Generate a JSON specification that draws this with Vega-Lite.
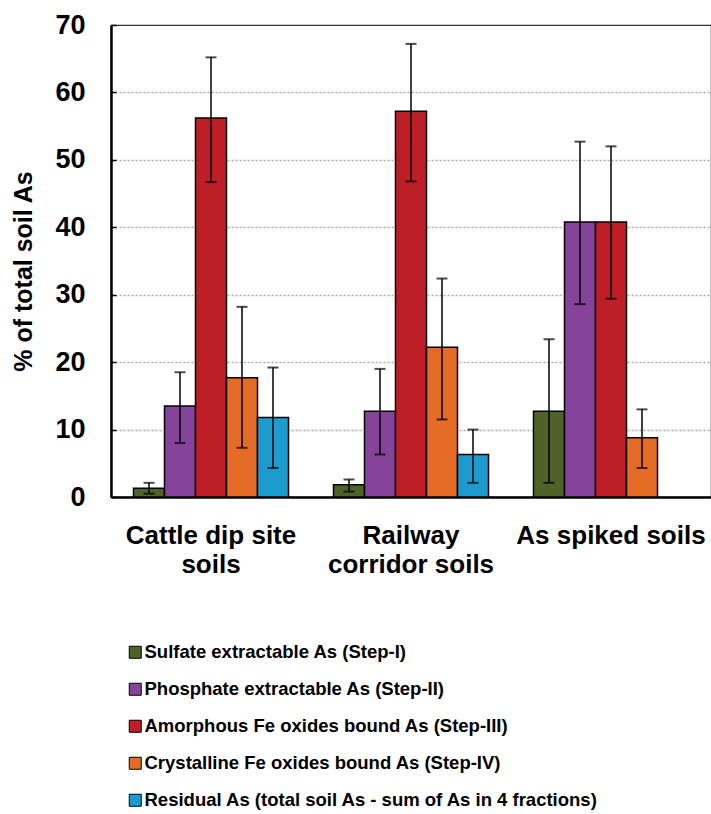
{
  "$schema": "https://vega.github.io/schema/vega-lite/v6.json",
  "autosize": {"type": "none"},
  "padding": {"left": 111, "top": 25, "right": 0, "bottom": 317},
  "width": 600,
  "height": 472,
  "background": "white",
  "config": {
    "font": "Liberation Sans",
    "view": {"stroke": "#333", "strokeWidth": 1.2}
  },
  "data": {
    "values": [
      {"group": "Cattle dip site|soils", "fraction": "Sulfate extractable  As (Step-I)", "value": 1.3, "lo": 0.5, "hi": 2.1},
      {"group": "Cattle dip site|soils", "fraction": "Phosphate extractable   As (Step-II)", "value": 13.5, "lo": 8.0, "hi": 18.5},
      {"group": "Cattle dip site|soils", "fraction": "Amorphous Fe oxides bound As (Step-III)", "value": 56.2, "lo": 46.7, "hi": 65.2},
      {"group": "Cattle dip site|soils", "fraction": "Crystalline Fe oxides bound As (Step-IV)", "value": 17.7, "lo": 7.3, "hi": 28.2},
      {"group": "Cattle dip site|soils", "fraction": "Residual As (total soil As - sum of As in 4 fractions)", "value": 11.8, "lo": 4.3, "hi": 19.2},
      {"group": "Railway|corridor soils", "fraction": "Sulfate extractable  As (Step-I)", "value": 1.8, "lo": 0.8, "hi": 2.6},
      {"group": "Railway|corridor soils", "fraction": "Phosphate extractable   As (Step-II)", "value": 12.7, "lo": 6.3, "hi": 19.0},
      {"group": "Railway|corridor soils", "fraction": "Amorphous Fe oxides bound As (Step-III)", "value": 57.2, "lo": 46.8, "hi": 67.2},
      {"group": "Railway|corridor soils", "fraction": "Crystalline Fe oxides bound As (Step-IV)", "value": 22.2, "lo": 11.5, "hi": 32.4},
      {"group": "Railway|corridor soils", "fraction": "Residual As (total soil As - sum of As in 4 fractions)", "value": 6.3, "lo": 2.1, "hi": 10.0},
      {"group": "As spiked soils", "fraction": "Sulfate extractable  As (Step-I)", "value": 12.7, "lo": 2.1, "hi": 23.4},
      {"group": "As spiked soils", "fraction": "Phosphate extractable   As (Step-II)", "value": 40.8, "lo": 28.6, "hi": 52.7},
      {"group": "As spiked soils", "fraction": "Amorphous Fe oxides bound As (Step-III)", "value": 40.8, "lo": 29.4, "hi": 52.0},
      {"group": "As spiked soils", "fraction": "Crystalline Fe oxides bound As (Step-IV)", "value": 8.8, "lo": 4.3, "hi": 13.0}
    ]
  },
  "encoding": {
    "x": {
      "field": "group",
      "type": "nominal",
      "sort": ["Cattle dip site|soils", "Railway|corridor soils", "As spiked soils"],
      "scale": {"paddingInner": 0.225, "paddingOuter": 0.1125},
      "axis": {
        "title": null,
        "labelAngle": 0,
        "labelExpr": "split(datum.label, '|')",
        "labelFont": "Liberation Sans",
        "labelFontSize": 26,
        "labelFontWeight": "bold",
        "labelColor": "black",
        "labelLineHeight": 29,
        "labelPadding": 25,
        "labelBaseline": "top",
        "labelLimit": 0,
        "labelOverlap": false,
        "ticks": false,
        "domainColor": "black",
        "domainWidth": 2.5
      }
    },
    "xOffset": {
      "field": "fraction",
      "type": "nominal",
      "scale": {
        "domain": [
          "Sulfate extractable  As (Step-I)",
          "Phosphate extractable   As (Step-II)",
          "Amorphous Fe oxides bound As (Step-III)",
          "Crystalline Fe oxides bound As (Step-IV)",
          "Residual As (total soil As - sum of As in 4 fractions)"
        ],
        "paddingInner": 0,
        "paddingOuter": 0
      }
    }
  },
  "layer": [
    {
      "mark": {"type": "bar", "stroke": "black", "strokeWidth": 1.5},
      "encoding": {
        "y": {
          "field": "value",
          "type": "quantitative",
          "scale": {"domain": [0, 70], "nice": false},
          "axis": {
            "title": "% of total soil As",
            "titleFont": "Liberation Sans",
            "titleFontSize": 25,
            "titleFontWeight": "bold",
            "titleColor": "black",
            "titleY": 246,
            "titlePadding": 18,
            "values": [0, 5, 10, 15, 20, 25, 30, 35, 40, 45, 50, 55, 60, 65, 70],
            "labelExpr": "datum.value % 10 === 0 ? datum.label : ''",
            "labelFont": "Liberation Sans",
            "labelFontSize": 27,
            "labelFontWeight": "bold",
            "labelColor": "black",
            "labelPadding": 31,
            "tickSize": -5,
            "tickColor": "black",
            "tickWidth": 1.5,
            "domainColor": "black",
            "domainWidth": 2.5,
            "grid": true,
            "gridDash": [2, 2],
            "gridColor": "#aaaaaa",
            "gridWidth": 1.5,
            "gridOpacity": {"condition": {"test": "datum.value % 10 === 0 && datum.value > 0 && datum.value < 70", "value": 1}, "value": 0}
          }
        },
        "color": {
          "field": "fraction",
          "type": "nominal",
          "scale": {
            "domain": [
              "Sulfate extractable  As (Step-I)",
              "Phosphate extractable   As (Step-II)",
              "Amorphous Fe oxides bound As (Step-III)",
              "Crystalline Fe oxides bound As (Step-IV)",
              "Residual As (total soil As - sum of As in 4 fractions)"
            ],
            "range": ["#4e6229", "#85449a", "#be1f27", "#e46c26", "#1d9bcf"]
          },
          "legend": {
            "title": null,
            "orient": "none",
            "legendX": 15,
            "legendY": 618,
            "direction": "vertical",
            "symbolType": "square",
            "symbolSize": 144,
            "symbolStrokeColor": "black",
            "symbolStrokeWidth": 1,
            "symbolOpacity": 1,
            "labelFont": "Liberation Sans",
            "labelFontSize": 18.5,
            "labelFontWeight": "bold",
            "labelColor": "black",
            "labelOffset": 0,
            "labelLimit": 0,
            "rowPadding": 18
          }
        }
      }
    },
    {
      "mark": {"type": "rule", "color": "black", "strokeWidth": 1.5},
      "encoding": {
        "y": {"field": "lo", "type": "quantitative"},
        "y2": {"field": "hi"}
      }
    },
    {
      "mark": {"type": "tick", "color": "black", "size": 11, "thickness": 2},
      "encoding": {
        "y": {"field": "hi", "type": "quantitative"}
      }
    },
    {
      "mark": {"type": "tick", "color": "black", "size": 11, "thickness": 2},
      "encoding": {
        "y": {"field": "lo", "type": "quantitative"}
      }
    }
  ]
}
